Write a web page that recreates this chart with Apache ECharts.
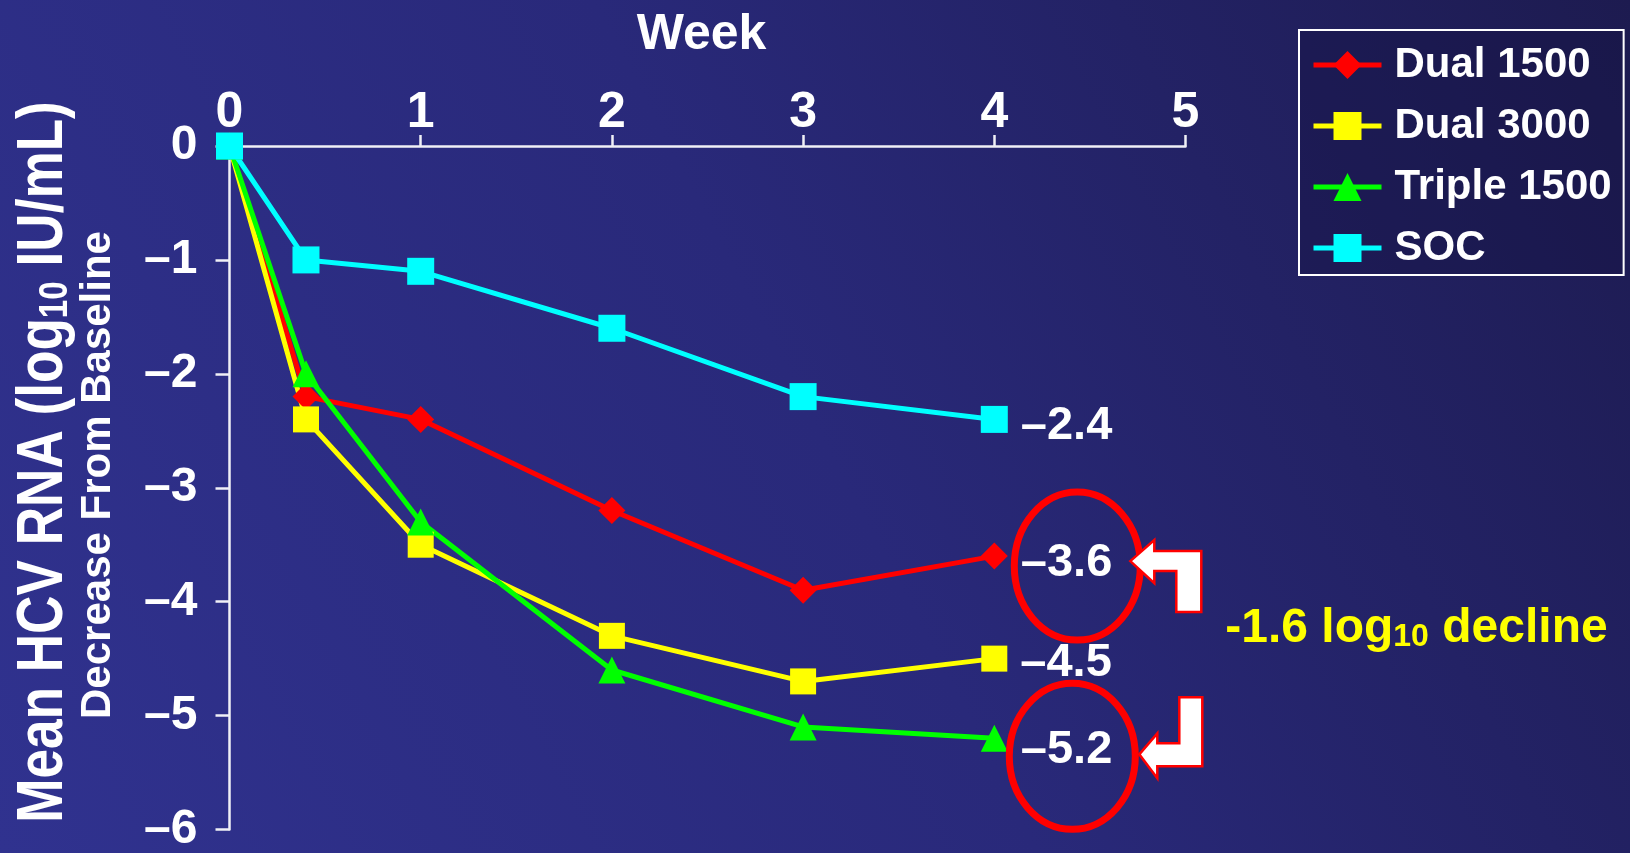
<!DOCTYPE html>
<html>
<head>
<meta charset="utf-8">
<title>Mean HCV RNA decrease from baseline</title>
<script src="https://cdn.jsdelivr.net/npm/echarts@6/dist/echarts.min.js"></script>
<style>
  html, body { margin: 0; padding: 0; background: #28287a; }
  #chart { width: 1630px; height: 853px; }
</style>
</head>
<body>
<div id="chart"></div>
<script>
// Study weeks at which HCV RNA was measured
const weeks = [0, 0.4, 1, 2, 3, 4];

// Mean change from baseline, log10 IU/mL
const dual1500   = [0, -2.2, -2.4, -3.2, -3.9, -3.6];
const dual3000   = [0, -2.4, -3.5, -4.3, -4.7, -4.5];
const triple1500 = [0, -2.0, -3.3, -4.6, -5.1, -5.2];
const soc        = [0, -1.0, -1.1, -1.6, -2.2, -2.4];

const seriesNames = ['Dual 1500', 'Dual 3000', 'Triple 1500', 'SOC'];

// Axis ticks
const weekTicks = [0, 1, 2, 3, 4, 5];
const changeTicks = [0, -1, -2, -3, -4, -5, -6];

const FONT = '"Liberation Sans", Arial, Helvetica, sans-serif';
const AXIS_COLOR = '#f0f0f6';
const DASH = '\u2013';

const chart = echarts.init(document.getElementById('chart'), null, { width: 1630, height: 853 });

function lineSeries(name, values, color, symbol, size, labelDy) {
  const last = values.length - 1;
  return {
    name: name,
    type: 'line',
    symbol: symbol,
    symbolSize: size,
    color: color,
    lineStyle: { width: 5, color: color },
    itemStyle: { color: color },
    emphasis: { disabled: true },
    data: weeks.map(function (w, i) {
      const item = { value: [w, values[i]] };
      if (i === last) {
        item.label = {
          show: true,
          position: 'right',
          distance: 13,
          offset: [0, labelDy],
          color: '#ffffff',
          fontSize: 47,
          fontWeight: 'bold',
          fontFamily: FONT,
          formatter: function (p) { return DASH + Math.abs(p.value[1]).toFixed(1); }
        };
      }
      return item;
    })
  };
}

const option = {
  animation: false,
  textStyle: { fontFamily: FONT },
  grid: { left: 229.5, right: 444.5, top: 146, bottom: 23.5, outerBoundsMode: 'none' },
  xAxis: {
    type: 'value',
    position: 'top',
    min: weekTicks[0],
    max: weekTicks[weekTicks.length - 1],
    interval: weekTicks[1] - weekTicks[0],
    name: 'Week',
    nameLocation: 'middle',
    nameGap: 86,
    nameTextStyle: { color: '#ffffff', fontSize: 50, fontWeight: 'bold', fontFamily: FONT, padding: [0, 12, 0, 0] },
    axisLine: { show: true, onZero: false, lineStyle: { color: AXIS_COLOR, width: 2.5 } },
    axisTick: { show: true, inside: false, length: 11, lineStyle: { color: AXIS_COLOR, width: 2.5 } },
    axisLabel: { show: true, color: '#ffffff', fontSize: 50, fontWeight: 'bold', fontFamily: FONT, margin: 8 },
    splitLine: { show: false }
  },
  yAxis: {
    type: 'value',
    min: changeTicks[changeTicks.length - 1],
    max: changeTicks[0],
    interval: 1,
    axisLine: { show: true, onZero: false, lineStyle: { color: AXIS_COLOR, width: 2.5 } },
    axisTick: { show: true, inside: false, length: 14, lineStyle: { color: AXIS_COLOR, width: 2.5 } },
    axisLabel: {
      show: true, color: '#ffffff', fontSize: 48, fontWeight: 'bold', fontFamily: FONT,
      margin: 32, padding: [20, 0, 0, 0],
      formatter: function (v) { return v === 0 ? '0' : DASH + Math.abs(v); }
    },
    splitLine: { show: false }
  },
  legend: {
    orient: 'vertical',
    left: 1299,
    top: 30,
    itemWidth: 68,
    itemHeight: 35,
    itemGap: 19,
    padding: [14, 12, 6, 12],
    borderColor: '#ffffff',
    borderWidth: 2,
    backgroundColor: 'rgba(20,18,64,0.35)',
    selectedMode: false,
    lineStyle: { width: 5 },
    textStyle: { color: '#ffffff', fontSize: 42, fontWeight: 'bold', fontFamily: FONT, lineHeight: 42, padding: [0, 0, 0, 8] },
    data: seriesNames
  },
  series: [
    lineSeries(seriesNames[0], dual1500, '#ff0000', 'diamond', 27, 7),
    lineSeries(seriesNames[1], dual3000, '#ffff00', 'rect', 26, 4),
    lineSeries(seriesNames[2], triple1500, '#00ff00', 'triangle', 27, 12),
    lineSeries(seriesNames[3], soc, '#00ffff', 'rect', 27, 7)
  ]
};

chart.setOption(option);

// Annotations placed relative to the week-4 points of Dual 1500 and Triple 1500
const last = weeks.length - 1;
const pDual = chart.convertToPixel({ gridIndex: 0 }, [weeks[last], dual1500[last]]);
const pTriple = chart.convertToPixel({ gridIndex: 0 }, [weeks[last], triple1500[last]]);

function shifted(p, pts) {
  return pts.map(function (d) { return [p[0] + d[0], p[1] + d[1]]; });
}

const upperArrow = shifted(pDual, [[136, 5], [160, -16], [160, -5], [207, -5], [207, 56], [182, 56], [182, 15], [160, 15], [160, 27]]);
const lowerArrow = shifted(pTriple, [[145, 16], [163, -5], [163, 5], [185, 5], [185, -41], [208, -41], [208, 28], [163, 28], [163, 40]]);

chart.setOption({
  graphic: [
    {
      type: 'rect', z: -100, silent: true,
      shape: { x: 0, y: 0, width: 1630, height: 853 },
      style: {
        fill: new echarts.graphic.LinearGradient(0, 1, 1, 0, [
          { offset: 0, color: '#30328f' },
          { offset: 0.5, color: '#29297a' },
          { offset: 1, color: '#1d1b50' }
        ])
      }
    },
    {
      type: 'text', silent: true,
      x: 44, y: 462, rotation: Math.PI / 2, scaleX: 0.83,
      style: {
        text: '{m|Mean HCV RNA (log}{s|10}{m| IU/mL)}',
        align: 'center', verticalAlign: 'middle', fill: '#ffffff',
        rich: {
          m: { fontSize: 64, fontWeight: 'bold', fontFamily: FONT, fill: '#ffffff', lineHeight: 64 },
          s: { fontSize: 40, fontWeight: 'bold', fontFamily: FONT, fill: '#ffffff', lineHeight: 26, verticalAlign: 'bottom' }
        }
      }
    },
    {
      type: 'text', silent: true,
      x: 98, y: 475, rotation: Math.PI / 2,
      style: {
        text: 'Decrease From Baseline',
        align: 'center', verticalAlign: 'middle', fill: '#ffffff',
        fontSize: 42, fontWeight: 'bold', fontFamily: FONT
      }
    },
    {
      type: 'ellipse', silent: true, z: 50,
      shape: { cx: pDual[0] + 83, cy: pDual[1] + 10, rx: 63, ry: 74 },
      style: { fill: 'transparent', stroke: '#ff0000', lineWidth: 7 }
    },
    {
      type: 'ellipse', silent: true, z: 50,
      shape: { cx: pTriple[0] + 78, cy: pTriple[1] + 18, rx: 63, ry: 73 },
      style: { fill: 'transparent', stroke: '#ff0000', lineWidth: 7 }
    },
    {
      type: 'polygon', silent: true, z: 50,
      shape: { points: upperArrow },
      style: { fill: '#ffffff', stroke: '#ff0000', lineWidth: 2.5, lineJoin: 'miter' }
    },
    {
      type: 'polygon', silent: true, z: 50,
      shape: { points: lowerArrow },
      style: { fill: '#ffffff', stroke: '#ff0000', lineWidth: 2.5, lineJoin: 'miter' }
    },
    {
      type: 'text', silent: true, z: 50,
      x: pDual[0] + 231, y: pDual[1] + 73,
      style: {
        text: '{m|-1.6 log}{s|10}{m| decline}',
        align: 'left', verticalAlign: 'middle', fill: '#ffff00',
        rich: {
          m: { fontSize: 48, fontWeight: 'bold', fontFamily: FONT, fill: '#ffff00', lineHeight: 48 },
          s: { fontSize: 32, fontWeight: 'bold', fontFamily: FONT, fill: '#ffff00', lineHeight: 16, verticalAlign: 'bottom' }
        }
      }
    }
  ]
});
</script>
</body>
</html>
